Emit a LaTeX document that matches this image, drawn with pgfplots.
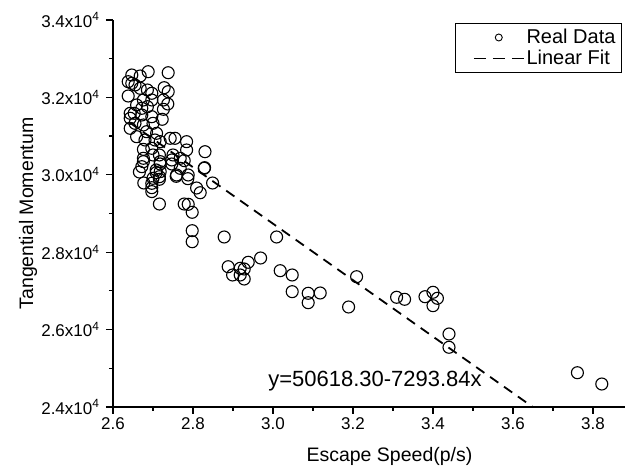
\documentclass[border=0pt]{standalone}
\usepackage{fontspec}
\setmainfont{Liberation Sans}
\usepackage{pgfplots}
\pgfplotsset{compat=1.18}

\begin{document}
\begin{tikzpicture}[x=1pt,y=1pt]
\path[use as bounding box] (-113,-63) rectangle (514,407);
\begin{axis}[
  at={(0pt,0pt)}, anchor=south west,
  scale only axis, width=512pt, height=387pt,
  xmin=2.6, xmax=3.88, ymin=24000, ymax=34000,
  axis x line*=bottom, axis y line*=left,
  axis line style={line width=1.3pt},
  xtick={2.6,2.8,3.0,3.2,3.4,3.6,3.8},
  xticklabels={2.6,2.8,3.0,3.2,3.4,3.6,3.8},
  minor xtick={2.7,2.9,3.1,3.3,3.5,3.7},
  ytick={24000,26000,28000,30000,32000,34000},
  yticklabels={2.4x10\textsuperscript{4},2.6x10\textsuperscript{4},2.8x10\textsuperscript{4},3.0x10\textsuperscript{4},3.2x10\textsuperscript{4},3.4x10\textsuperscript{4}},
  minor ytick={25000,27000,29000,31000,33000},
  scaled y ticks=false,
  tick align=outside,
  major tick length=7pt, minor tick length=4pt,
  tick style={line width=1.2pt, black},
  ticklabel style={font=\fontsize{17}{20}\selectfont},
  yticklabel style={xshift=-3pt},
  xlabel={Escape Speed(p/s)}, ylabel={Tangential Momentum},
  label style={font=\fontsize{19.5}{23}\selectfont},
  xlabel style={at={(axis description cs:0.54,-0.1266)}, anchor=center},
  ylabel style={at={(axis description cs:-0.166,0.5)}, anchor=center},
  legend style={draw=black, line width=0.8pt, font=\fontsize{20}{22}\selectfont,
    at={(0.994,0.992)}, anchor=north east, inner xsep=3pt, inner ysep=4pt, row sep=1pt},
  legend cell align=left,
]
\addplot[only marks, mark=o, mark size=6pt, line width=1.1pt,
  legend image code/.code={\draw[white, line width=0.2pt] (-15pt,0pt)--(50pt,0pt);
    \draw[black, line width=0.9pt] (25pt,0pt) circle (3.5pt);}]
coordinates {
(2.688,32664) (2.738,32638) (2.647,32579) (2.668,32553) (2.638,32406)
(2.647,32364) (2.655,32320) (2.668,32235) (2.686,32191) (2.697,32106)
(2.728,32251) (2.738,32148) (2.638,32036) (2.697,31933) (2.676,31933)
(2.726,31933) (2.737,31830) (2.659,31804) (2.672,31718) (2.686,31760)
(2.726,31692) (2.643,31589) (2.653,31589) (2.672,31545) (2.697,31501)
(2.643,31460) (2.723,31434) (2.655,31330) (2.676,31287) (2.700,31330)
(2.643,31201) (2.684,31114) (2.659,30985) (2.709,31072) (2.680,30899)
(2.705,30899) (2.676,30657) (2.697,30684) (2.718,30856) (2.743,30943)
(2.755,30943) (2.784,30856) (2.830,30597) (2.676,30426) (2.750,30512)
(2.700,30512) (2.716,30512) (2.768,30426) (2.784,30641) (2.718,30340)
(2.672,30210) (2.676,30340) (2.778,30366) (2.747,30383) (2.828,30168)
(2.718,30081) (2.759,29995) (2.788,29995) (2.700,29909) (2.716,29951)
(2.716,29884) (2.697,29780) (2.697,29667) (2.697,29566) (2.677,29788)
(2.666,30072) (2.708,30054) (2.708,30124) (2.718,30279) (2.747,30279)
(2.768,30168) (2.758,29961) (2.787,29900) (2.809,29659) (2.818,29537)
(2.849,29788) (2.829,30184) (2.716,29245) (2.778,29245) (2.788,29238)
(2.798,29031) (2.798,28556) (2.798,28271) (2.878,28393) (2.888,27625)
(2.899,27411) (2.918,27584) (2.918,27411) (2.928,27566) (2.928,27307)
(2.938,27739) (2.969,27850) (3.009,28393) (3.018,27522) (3.048,27411)
(3.048,26980) (3.088,26938) (3.088,26695) (3.118,26946) (3.189,26584)
(3.209,27367) (3.309,26835) (3.329,26783) (3.380,26850) (3.400,26964)
(3.411,26809) (3.400,26618) (3.440,25886) (3.440,25543) (3.761,24886)
(3.822,24594)
};
\addlegendentry{\makebox[90pt][l]{Real Data}}
\addplot[dash pattern=on 10pt off 7pt, line width=1.8pt,
  legend image code/.code={\draw[white, line width=0.2pt] (-15pt,0pt)--(50pt,0pt);
    \draw[black, dash pattern=on 12pt off 7pt, line width=1.5pt] (0pt,0pt)--(50pt,0pt);}]
coordinates {(2.64,31362.8) (3.6494,24000)};
\addlegendentry{\makebox[90pt][l]{Linear Fit}}
\node[font=\fontsize{22}{25}\selectfont] at (axis cs:3.255,24672) {y=50618.30-7293.84x};
\end{axis}
\end{tikzpicture}
\end{document}
